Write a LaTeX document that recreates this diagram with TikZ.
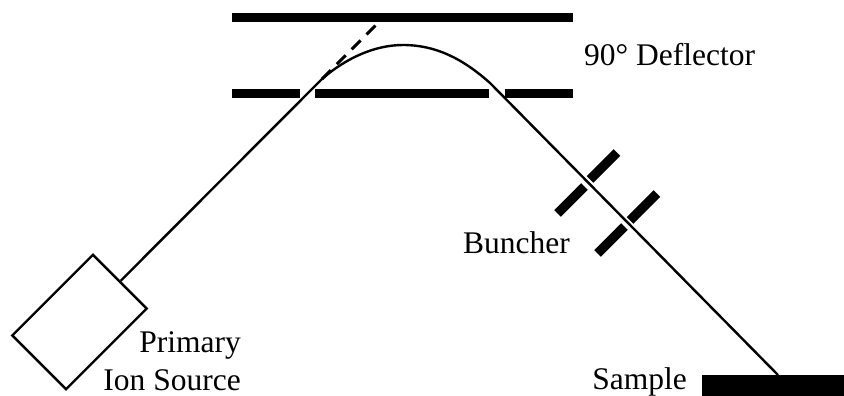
\documentclass[tikz,border=0pt]{standalone}
\usepackage{fontspec}
\setmainfont{Liberation Serif}
\usetikzlibrary{positioning,calc}
\begin{document}
\begin{tikzpicture}[x=1pt,y=-1pt,
  plate/.style={fill=black,inner sep=0pt,minimum height=8.5pt},
  lbl/.style={inner sep=0pt,font=\fontsize{31.5}{36}\selectfont},
  beam/.style={line width=2.4pt,line join=round}]
\useasboundingbox (0,0) rectangle (844,396);
% deflector plates
\node[plate,minimum width=341pt] (P0) at (402.5,17.5) {};
\node[plate,minimum width=68pt] (P1) at (266,93.5) {};
\node[plate,minimum width=174pt] (P2) at (402,93.5) {};
\node[plate,minimum width=68pt] (P3) at (539,93.5) {};
% buncher plates
\foreach \n/\x/\y in {B1/603.5/166,B2/571/200,B3/643.5/207,B4/611/240}{
  \node[plate,minimum width=38pt,minimum height=9.5pt,rotate=45] (\n) at (\x,\y) {};}
\node[plate,minimum width=142pt,minimum height=21pt] (S) at (773,385.5) {};
\node[draw,line width=2.4pt,minimum width=114pt,minimum height=76pt,inner sep=0pt,rotate=45] (I) at (79.5,322) {};
\coordinate (T) at (403,45);
\coordinate (H) at (778,375);
\coordinate (D) at (376,25);
\coordinate (A) at (322,79);
\coordinate (C) at (490,83);
\draw[beam] (I.east) -- (A) .. controls (346,58) and (375,45) .. (T) .. controls (435,45) and (462,58) .. (C) -- (H);
\draw[line width=3pt,dash pattern=on 12.5pt off 8.5pt] (A) -- (D);
\node[lbl,anchor=base west] (L1) at (584,66) {90° Deflector};
\node[lbl,anchor=base east] (L2) at (570,253) {Buncher};
\node[lbl,anchor=base east] (L3) at (241,352) {Primary};
\node[lbl,anchor=base east] (L4) at (241,390) {Ion Source};
\node[lbl,anchor=base east] (L5) at (687,389) {Sample};
\end{tikzpicture}
\end{document}
